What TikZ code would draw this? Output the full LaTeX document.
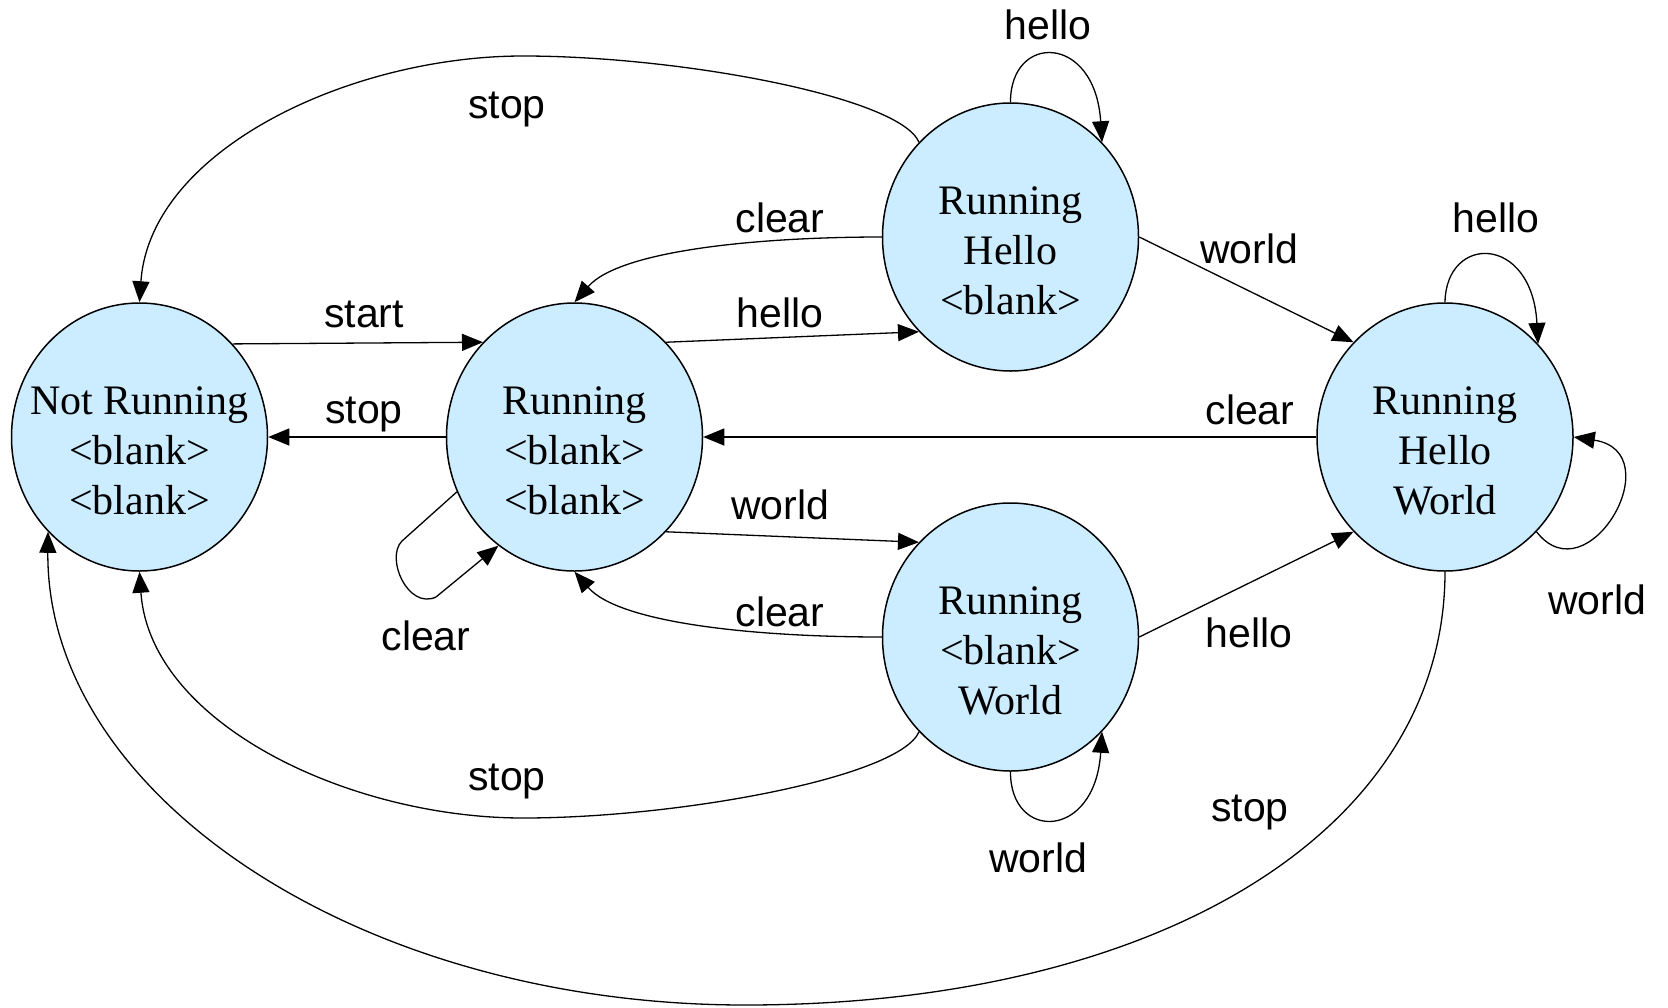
\documentclass[tikz,border=0pt]{standalone}
\usepackage{fontspec}
\setmainfont{Liberation Serif}
\newfontfamily\lsans{Liberation Sans}
\usetikzlibrary{arrows.meta,shapes.geometric}
\definecolor{statefill}{RGB}{204,236,255}
\tikzset{
  state/.style={ellipse, draw=black, line width=1.5pt, fill=statefill,
    minimum width=256pt, minimum height=268pt, inner sep=0pt},
  statetext/.style={align=center, inner sep=0pt, font=\fontsize{42}{50}\selectfont},
  edge/.style={line width=1.3pt, -{Triangle[length=21pt,width=17pt]}},
  lbl/.style={inner sep=0pt, font=\lsans\fontsize{41}{48}\selectfont}
}
\begin{document}
\begin{tikzpicture}[x=1pt,y=-1pt]
\useasboundingbox (0,0) rectangle (1668,1007);
% states
\node[state] (NR)  at (139.5,437) {};
\node[state] (R)   at (574.5,437) {};
\node[state] (RH)  at (1010.5,237) {};
\node[state] (RW)  at (1010.5,637) {};
\node[state] (RHW) at (1445,437) {};
\node[statetext] (NRt)  at ([yshift=-14pt]NR.center)  {Not Running\\<blank>\\<blank>};
\node[statetext] (Rt)   at ([yshift=-14pt]R.center)   {Running\\<blank>\\<blank>};
\node[statetext] (RHt)  at ([yshift=-14pt]RH.center)  {Running\\Hello\\<blank>};
\node[statetext] (RWt)  at ([yshift=-14pt]RW.center)  {Running\\<blank>\\World};
\node[statetext] (RHWt) at ([yshift=-14pt]RHW.center) {Running\\Hello\\World};
% straight transitions
\draw[edge] (NR.45.5) -- (R.134.5);
\draw[edge] (R) -- (NR);
\draw[edge] (R.46) -- (RH.226);
\draw[edge] (R.314) -- (RW.134);
\draw[edge] (RH.0) -- (RHW.134);
\draw[edge] (RW.0) -- (RHW.226);
\draw[edge] (RHW) -- (R);
% curved transitions
\draw[edge] (RH.180) .. controls (760,237) and (620,250) .. (R.90);
\draw[edge] (RW.180) .. controls (760,637) and (620,624) .. (R.270);
\draw[edge] (RH.134) .. controls (900,97) and (680,56) .. (523,56)
            .. controls (350,56) and (150,150) .. (NR.90);
\draw[edge] (RW.226) .. controls (900,777) and (680,818) .. (523,818)
            .. controls (350,818) and (150,724) .. (NR.270);
\draw[edge] (RHW.270) .. controls (1445,830) and (1160,1005) .. (745,1005)
            .. controls (359,1005) and (46,795) .. (NR.226);
% self loops
\draw[edge] (R.205) -- (402,541) .. controls (385,558) and (408,610) .. (436,597) -- (R.235);
\draw[edge] (RH.90) .. controls (1010,33) and (1095,33) .. (RH.46);
\draw[edge] (RW.270) .. controls (1010,841) and (1095,841) .. (RW.314);
\draw[edge] (RHW.90) .. controls (1446,234) and (1532,234) .. (RHW.45.6);
\draw[edge] (RHW.-46) .. controls (1588,598) and (1672,452) .. (RHW.0);
% labels
\node[lbl] (l1)  at (364,314)  {start};
\node[lbl] (l2)  at (364,414)  {stop};
\node[lbl] (l3)  at (426,636)  {clear};
\node[lbl] (l4)  at (780,313)  {hello};
\node[lbl] (l5)  at (780,218)  {clear};
\node[lbl] (l6)  at (780,505)  {world};
\node[lbl] (l7)  at (780,612)  {clear};
\node[lbl] (l8)  at (507,109)  {stop};
\node[lbl] (l9)  at (507,781)  {stop};
\node[lbl] (l10) at (1249,249) {world};
\node[lbl] (l11) at (1249,633) {hello};
\node[lbl] (l12) at (1250,410) {clear};
\node[lbl] (l13) at (1048,25)  {hello};
\node[lbl] (l14) at (1496,218) {hello};
\node[lbl] (l15) at (1038,858) {world};
\node[lbl] (l16) at (1597,600) {world};
\node[lbl] (l17) at (1250,812) {stop};
\end{tikzpicture}
\end{document}
